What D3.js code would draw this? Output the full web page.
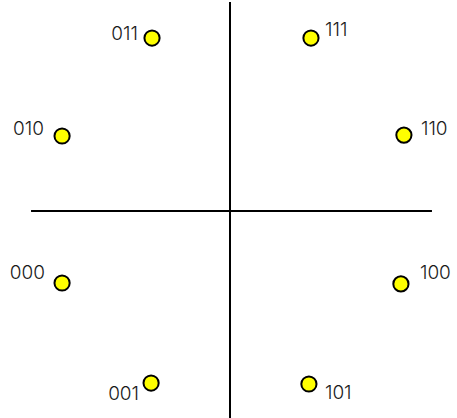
<!DOCTYPE html>
<html><head><meta charset="utf-8">
<script src="https://cdn.jsdelivr.net/npm/d3@7"></script>
<style>html,body{margin:0;padding:0;background:#fff;}svg{display:block;}</style>
</head><body>
<script>
// Data
const labels = ["011","111","010","110","000","100","001","101"];
const xValues = [-0.417, 0.433, -0.898, 0.930, -0.898, 0.914, -0.422, 0.422];
const yValues = [0.925, 0.925, 0.401, 0.406, -0.385, -0.390, -0.920, -0.925];
const axisXExtent = [-1.064, 1.080];
const axisYExtent = [-1.12, 1.118];

// Layout (label offsets in px relative to marker, by label)
const labelDx = [-14, 14, -18, 17, -17, 19, -12, 16];
const labelDy = [2, -2, -1, 0, -4, -5, 17, 15];

const W = 457, H = 418;
const cx = 230, cy = 211, R = 187;
const x = d3.scaleLinear().domain([-1, 1]).range([cx - R, cx + R]);
const y = d3.scaleLinear().domain([-1, 1]).range([cy + R, cy - R]);

const svg = d3.select("body").append("svg").attr("width", W).attr("height", H);

svg.append("line")
  .attr("x1", x(axisXExtent[0])).attr("x2", x(axisXExtent[1]))
  .attr("y1", y(0)).attr("y2", y(0))
  .attr("stroke", "#000").attr("stroke-width", 2);
svg.append("line")
  .attr("x1", x(0)).attr("x2", x(0))
  .attr("y1", y(axisYExtent[0])).attr("y2", y(axisYExtent[1]))
  .attr("stroke", "#000").attr("stroke-width", 2);

const pts = labels.map((l, i) => ({label: l, x: xValues[i], y: yValues[i], dx: labelDx[i], dy: labelDy[i]}));

svg.selectAll("circle.pt").data(pts).enter().append("circle")
  .attr("class", "pt")
  .attr("cx", d => x(d.x)).attr("cy", d => y(d.y)).attr("r", 7.6)
  .attr("fill", "#ffff00").attr("stroke", "#000").attr("stroke-width", 2);

svg.selectAll("text.lbl").data(pts).enter().append("text")
  .attr("class", "lbl")
  .attr("x", d => x(d.x) + d.dx).attr("y", d => y(d.y) + d.dy)
  .attr("text-anchor", d => d.dx < 0 ? "end" : "start")
  .attr("font-family", "Inter, 'Liberation Sans', sans-serif")
  .attr("font-size", 19).attr("font-weight", 300)
  .attr("fill", "#1a1a1a")
  .text(d => d.label);
</script>
</body></html>
